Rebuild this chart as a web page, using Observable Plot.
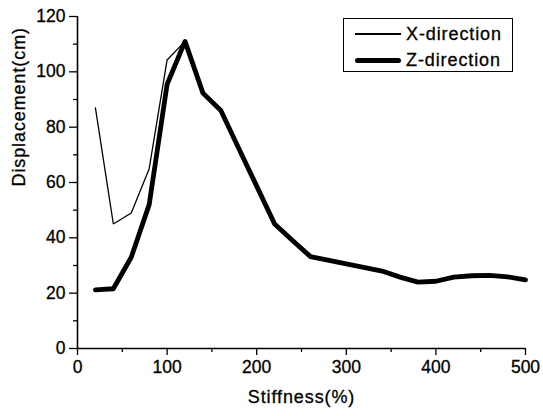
<!DOCTYPE html>
<html>
<head>
<meta charset="utf-8">
<script src="https://cdn.jsdelivr.net/npm/d3@7"></script>
<script src="https://cdn.jsdelivr.net/npm/@observablehq/plot@0.6"></script>
<style>
  html, body { margin: 0; padding: 0; background: #fff; }
  #wrap { position: relative; width: 543px; height: 416px; font-family: "Liberation Sans", Arial, sans-serif; }
  #wrap svg text { stroke: #000; stroke-width: 0.3px; }
  #legend { position: absolute; left: 343px; top: 18px; width: 170px; height: 54px; border: 1.3px solid #000; box-sizing: border-box; background: #fff; }
  #legend .row { position: absolute; left: 0; height: 20px; display: flex; align-items: center; font-size: 18px; letter-spacing: 0.9px; color: #000; -webkit-text-stroke: 0.3px #000; white-space: nowrap; }
  #legend .sw { width: 46px; margin-left: 11px; margin-right: 5px; background: #000; }
</style>
</head>
<body>
<div id="wrap"></div>
<script>
// Data
const zStiffness = [20, 40, 60, 80, 100, 120, 140, 160, 180, 200, 220, 240, 260, 300, 340, 360, 380, 400, 420, 440, 460, 480, 500];
const zDisplacement = [21.2, 21.6, 33, 52, 95.5, 111, 92.3, 86, 72.3, 58.7, 45, 39, 33.2, 30.6, 28, 25.8, 24, 24.3, 25.8, 26.3, 26.4, 25.9, 24.8];
const xStiffness = [20, 40, 60, 80, 100, 120];
const xDisplacement = [87, 45, 49, 65, 104.3, 111];
const seriesNames = ["X-direction", "Z-direction"];
const xMajorTicks = [0, 100, 200, 300, 400, 500];
const xMinorTicks = [50, 150, 250, 350, 450];
const yMajorTicks = [0, 20, 40, 60, 80, 100, 120];
const yMinorTicks = [10, 30, 50, 70, 90, 110];

const zData = zStiffness.map((s, i) => ({s, d: zDisplacement[i]}));
const xData = xStiffness.map((s, i) => ({s, d: xDisplacement[i]}));

const chart = Plot.plot({
  width: 543,
  height: 416,
  marginLeft: 77,
  marginRight: 18,
  marginTop: 16,
  marginBottom: 68,
  style: {fontFamily: "'Liberation Sans', Arial, sans-serif", fontSize: "17.5px", color: "#000", background: "#fff", overflow: "visible"},
  x: {domain: [0, 500]},
  y: {domain: [0, 120]},
  marks: [
    Plot.axisX({ticks: xMajorTicks, tickSize: 7, tickPadding: 5, tickFormat: d3.format("d"), label: null, strokeWidth: 1.3}),
    Plot.axisX({ticks: xMinorTicks, tickSize: 4, tickFormat: () => "", label: null, strokeWidth: 1.3}),
    Plot.axisY({ticks: yMajorTicks, tickSize: 8, tickPadding: 4, tickFormat: d3.format("d"), label: null, strokeWidth: 1.3}),
    Plot.axisY({ticks: yMinorTicks, tickSize: 4, tickFormat: () => "", label: null, strokeWidth: 1.3}),
    Plot.ruleY([0], {stroke: "#000", strokeWidth: 1.6}),
    Plot.ruleX([0], {stroke: "#000", strokeWidth: 1.6}),
    Plot.line(xData, {x: "s", y: "d", stroke: "#000", strokeWidth: 1.3, strokeLinejoin: "miter"}),
    Plot.line(zData, {x: "s", y: "d", stroke: "#000", strokeWidth: 4.8, strokeLinejoin: "round", strokeLinecap: "round"}),
    Plot.text(["Stiffness(%)"], {frameAnchor: "bottom", dy: 54, fontSize: 18, fill: "#000"}),
    Plot.text(["Displacement(cm)"], {frameAnchor: "left", dx: -58, dy: 4, rotate: -90, fontSize: 18, fill: "#000"})
  ]
});

const wrap = document.getElementById("wrap");
wrap.appendChild(chart);
chart.querySelectorAll("text").forEach(t => {
  if (t.textContent === "Stiffness(%)" || t.textContent === "Displacement(cm)") t.style.letterSpacing = "0.9px";
});

const legend = document.createElement("div");
legend.id = "legend";
const widths = [1.3, 5];
seriesNames.forEach((name, i) => {
  const row = document.createElement("div");
  row.className = "row";
  row.style.top = (i === 0 ? 5 : 31) + "px";
  const sw = document.createElement("span");
  sw.className = "sw";
  sw.style.height = widths[i] + "px";
  sw.style.borderRadius = i === 1 ? "3px" : "0";
  const t = document.createElement("span");
  t.textContent = name;
  row.appendChild(sw);
  row.appendChild(t);
  legend.appendChild(row);
});
wrap.appendChild(legend);
</script>
</body>
</html>
